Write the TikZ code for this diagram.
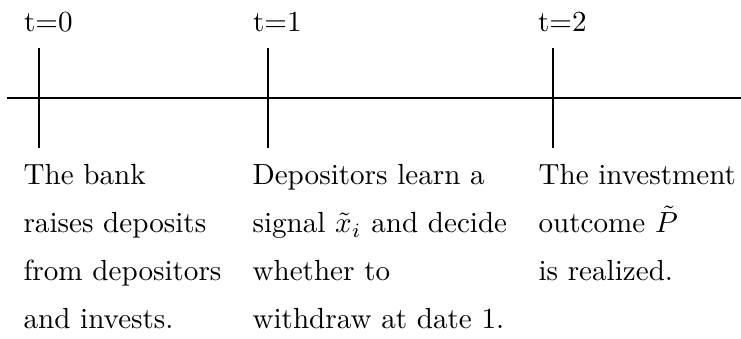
\documentclass[tikz,border=0pt]{standalone}
\usepackage{amsmath}
\usepackage{tikz}
\begin{document}
\begin{tikzpicture}[x=0.3435pt,y=-0.3435pt,font=\fontsize{10}{16.46}\selectfont,
  lbl/.style={anchor=base west,inner sep=0pt,align=left,text width=#1},lbl/.default=20pt]
\useasboundingbox (0,0) rectangle (741,339);
% time axis
\coordinate (axisL) at (7,98); \coordinate (axisR) at (741,98);
\draw (axisL) -- (axisR);
\foreach \x/\t in {39/0,268/1,553/2}{\coordinate (top\t) at (\x,48); \coordinate (bot\t) at (\x,148); \draw (top\t) -- (bot\t);
  \node[lbl] (date\t) at (\x-15.5,32) {t=\t};}
% events
\node[lbl=74pt] (event0) at (23,185) {The bank\\raises deposits\\from depositors\\and invests.};
\node[lbl=90pt] (event1) at (252,185) {Depositors learn a\\signal $\tilde{x}_i$ and decide\\whether to\\withdraw at date 1.};
\node[lbl=70pt] (event2) at (538,185) {The investment\\outcome $\tilde{P}$\\is realized.};
\end{tikzpicture}
\end{document}
